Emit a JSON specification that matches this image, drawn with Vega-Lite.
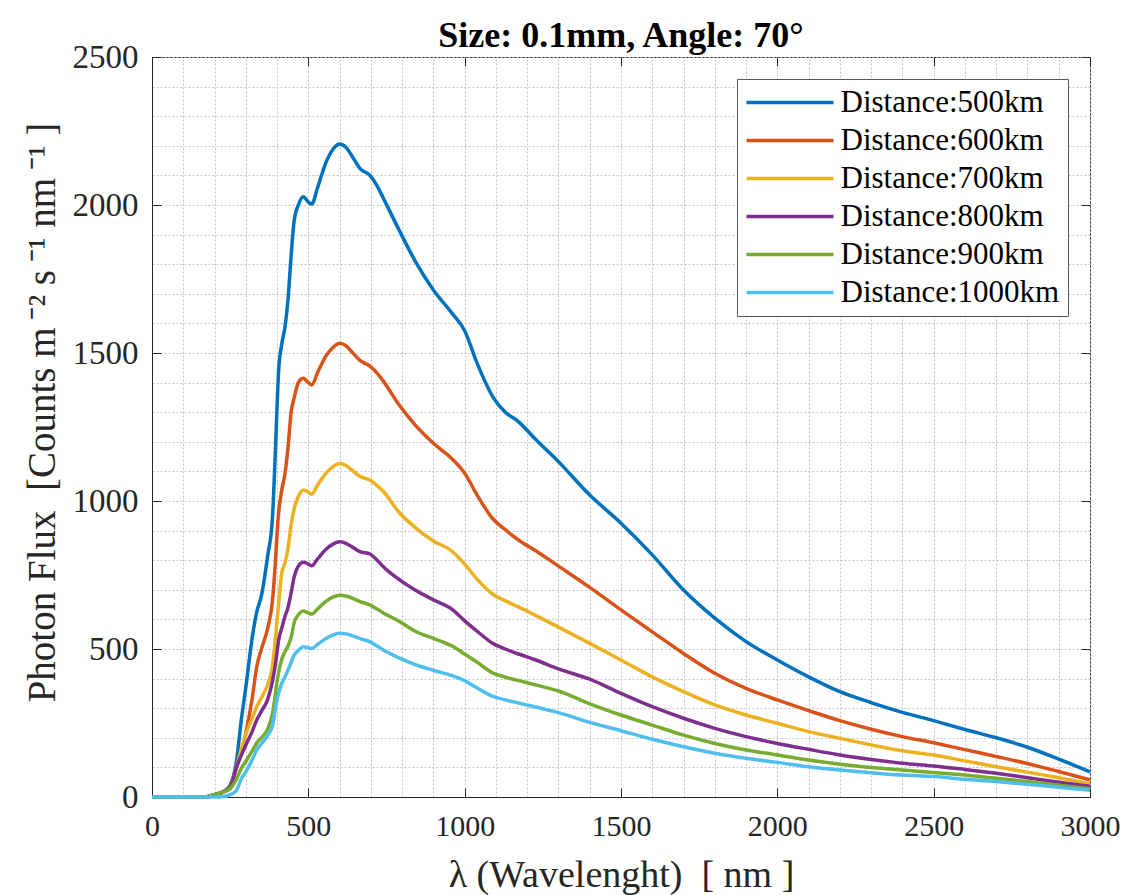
{
  "$schema": "https://vega.github.io/schema/vega-lite/v6.json",
  "width": 938,
  "height": 740,
  "autosize": "none",
  "padding": {"left": 152, "top": 57, "right": 40, "bottom": 98},
  "background": "white",
  "title": {"text": "Size: 0.1mm, Angle: 70°", "font": "Liberation Serif", "fontSize": 36, "fontWeight": "bold", "color": "#000000", "anchor": "middle", "offset": -14},
  "config": {"view": {"stroke": "#262626", "strokeWidth": 1}},
  "data": {"values": [
{"s":"Distance:500km","x":0,"y":0},{"s":"Distance:500km","x":100,"y":0},{"s":"Distance:500km","x":170,"y":0},{"s":"Distance:500km","x":200,"y":8},{"s":"Distance:500km","x":230,"y":20},{"s":"Distance:500km","x":250,"y":40},
{"s":"Distance:500km","x":270,"y":120},{"s":"Distance:500km","x":285,"y":255},{"s":"Distance:500km","x":300,"y":370},{"s":"Distance:500km","x":320,"y":535},{"s":"Distance:500km","x":335,"y":625},{"s":"Distance:500km","x":350,"y":680},
{"s":"Distance:500km","x":370,"y":815},{"s":"Distance:500km","x":385,"y":940},{"s":"Distance:500km","x":395,"y":1180},{"s":"Distance:500km","x":400,"y":1320},{"s":"Distance:500km","x":405,"y":1440},{"s":"Distance:500km","x":415,"y":1530},
{"s":"Distance:500km","x":425,"y":1585},{"s":"Distance:500km","x":435,"y":1680},{"s":"Distance:500km","x":445,"y":1830},{"s":"Distance:500km","x":455,"y":1950},{"s":"Distance:500km","x":468,"y":2000},{"s":"Distance:500km","x":484,"y":2028},
{"s":"Distance:500km","x":500,"y":2010},{"s":"Distance:500km","x":511,"y":2003},{"s":"Distance:500km","x":530,"y":2060},{"s":"Distance:500km","x":555,"y":2140},{"s":"Distance:500km","x":580,"y":2190},{"s":"Distance:500km","x":600,"y":2206},
{"s":"Distance:500km","x":620,"y":2195},{"s":"Distance:500km","x":640,"y":2165},{"s":"Distance:500km","x":665,"y":2124},{"s":"Distance:500km","x":697,"y":2100},{"s":"Distance:500km","x":720,"y":2065},{"s":"Distance:500km","x":740,"y":2023},
{"s":"Distance:500km","x":790,"y":1916},{"s":"Distance:500km","x":840,"y":1814},{"s":"Distance:500km","x":900,"y":1713},{"s":"Distance:500km","x":960,"y":1634},{"s":"Distance:500km","x":1000,"y":1575},{"s":"Distance:500km","x":1040,"y":1465},
{"s":"Distance:500km","x":1090,"y":1352},{"s":"Distance:500km","x":1130,"y":1300},{"s":"Distance:500km","x":1170,"y":1270},{"s":"Distance:500km","x":1230,"y":1205},{"s":"Distance:500km","x":1300,"y":1133},{"s":"Distance:500km","x":1400,"y":1020},
{"s":"Distance:500km","x":1500,"y":925},{"s":"Distance:500km","x":1600,"y":818},{"s":"Distance:500km","x":1700,"y":699},{"s":"Distance:500km","x":1800,"y":604},{"s":"Distance:500km","x":1900,"y":525},{"s":"Distance:500km","x":2000,"y":463},
{"s":"Distance:500km","x":2100,"y":406},{"s":"Distance:500km","x":2200,"y":356},{"s":"Distance:500km","x":2300,"y":319},{"s":"Distance:500km","x":2400,"y":286},{"s":"Distance:500km","x":2500,"y":258},{"s":"Distance:500km","x":2600,"y":228},
{"s":"Distance:500km","x":2700,"y":200},{"s":"Distance:500km","x":2800,"y":168},{"s":"Distance:500km","x":2900,"y":128},{"s":"Distance:500km","x":3000,"y":85},

{"s":"Distance:600km","x":0,"y":0},{"s":"Distance:600km","x":100,"y":0},{"s":"Distance:600km","x":170,"y":0},{"s":"Distance:600km","x":200,"y":8},{"s":"Distance:600km","x":230,"y":18},{"s":"Distance:600km","x":250,"y":35},
{"s":"Distance:600km","x":270,"y":100},{"s":"Distance:600km","x":285,"y":150},{"s":"Distance:600km","x":300,"y":215},{"s":"Distance:600km","x":320,"y":330},{"s":"Distance:600km","x":335,"y":440},{"s":"Distance:600km","x":350,"y":500},
{"s":"Distance:600km","x":370,"y":570},{"s":"Distance:600km","x":385,"y":660},{"s":"Distance:600km","x":395,"y":800},{"s":"Distance:600km","x":400,"y":890},{"s":"Distance:600km","x":405,"y":960},{"s":"Distance:600km","x":415,"y":1037},
{"s":"Distance:600km","x":425,"y":1090},{"s":"Distance:600km","x":435,"y":1180},{"s":"Distance:600km","x":445,"y":1300},{"s":"Distance:600km","x":455,"y":1350},{"s":"Distance:600km","x":468,"y":1400},{"s":"Distance:600km","x":484,"y":1415},
{"s":"Distance:600km","x":500,"y":1400},{"s":"Distance:600km","x":511,"y":1392},{"s":"Distance:600km","x":530,"y":1435},{"s":"Distance:600km","x":555,"y":1488},{"s":"Distance:600km","x":580,"y":1520},{"s":"Distance:600km","x":600,"y":1533},
{"s":"Distance:600km","x":620,"y":1525},{"s":"Distance:600km","x":640,"y":1503},{"s":"Distance:600km","x":665,"y":1475},{"s":"Distance:600km","x":697,"y":1456},{"s":"Distance:600km","x":720,"y":1432},{"s":"Distance:600km","x":740,"y":1405},
{"s":"Distance:600km","x":790,"y":1325},{"s":"Distance:600km","x":840,"y":1259},{"s":"Distance:600km","x":900,"y":1195},{"s":"Distance:600km","x":960,"y":1142},{"s":"Distance:600km","x":1000,"y":1094},{"s":"Distance:600km","x":1040,"y":1020},
{"s":"Distance:600km","x":1090,"y":940},{"s":"Distance:600km","x":1130,"y":903},{"s":"Distance:600km","x":1170,"y":870},{"s":"Distance:600km","x":1230,"y":830},{"s":"Distance:600km","x":1300,"y":780},{"s":"Distance:600km","x":1400,"y":708},
{"s":"Distance:600km","x":1500,"y":632},{"s":"Distance:600km","x":1600,"y":558},{"s":"Distance:600km","x":1700,"y":485},{"s":"Distance:600km","x":1800,"y":418},{"s":"Distance:600km","x":1900,"y":367},{"s":"Distance:600km","x":2000,"y":328},
{"s":"Distance:600km","x":2100,"y":292},{"s":"Distance:600km","x":2200,"y":258},{"s":"Distance:600km","x":2300,"y":229},{"s":"Distance:600km","x":2400,"y":204},{"s":"Distance:600km","x":2500,"y":183},{"s":"Distance:600km","x":2600,"y":160},
{"s":"Distance:600km","x":2700,"y":137},{"s":"Distance:600km","x":2800,"y":113},{"s":"Distance:600km","x":2900,"y":86},{"s":"Distance:600km","x":3000,"y":58},

{"s":"Distance:700km","x":0,"y":0},{"s":"Distance:700km","x":100,"y":0},{"s":"Distance:700km","x":170,"y":0},{"s":"Distance:700km","x":200,"y":8},{"s":"Distance:700km","x":230,"y":18},{"s":"Distance:700km","x":250,"y":32},
{"s":"Distance:700km","x":270,"y":100},{"s":"Distance:700km","x":285,"y":160},{"s":"Distance:700km","x":300,"y":210},{"s":"Distance:700km","x":320,"y":265},{"s":"Distance:700km","x":335,"y":305},{"s":"Distance:700km","x":350,"y":335},
{"s":"Distance:700km","x":370,"y":380},{"s":"Distance:700km","x":385,"y":440},{"s":"Distance:700km","x":395,"y":540},{"s":"Distance:700km","x":400,"y":600},{"s":"Distance:700km","x":405,"y":650},{"s":"Distance:700km","x":415,"y":756},
{"s":"Distance:700km","x":425,"y":790},{"s":"Distance:700km","x":435,"y":840},{"s":"Distance:700km","x":445,"y":920},{"s":"Distance:700km","x":455,"y":975},{"s":"Distance:700km","x":468,"y":1015},{"s":"Distance:700km","x":484,"y":1037},
{"s":"Distance:700km","x":500,"y":1030},{"s":"Distance:700km","x":511,"y":1023},{"s":"Distance:700km","x":530,"y":1055},{"s":"Distance:700km","x":555,"y":1092},{"s":"Distance:700km","x":580,"y":1117},{"s":"Distance:700km","x":600,"y":1127},
{"s":"Distance:700km","x":620,"y":1120},{"s":"Distance:700km","x":640,"y":1104},{"s":"Distance:700km","x":665,"y":1083},{"s":"Distance:700km","x":697,"y":1071},{"s":"Distance:700km","x":720,"y":1052},{"s":"Distance:700km","x":740,"y":1032},
{"s":"Distance:700km","x":790,"y":962},{"s":"Distance:700km","x":840,"y":912},{"s":"Distance:700km","x":900,"y":865},{"s":"Distance:700km","x":960,"y":830},{"s":"Distance:700km","x":1000,"y":787},{"s":"Distance:700km","x":1040,"y":735},
{"s":"Distance:700km","x":1090,"y":685},{"s":"Distance:700km","x":1130,"y":663},{"s":"Distance:700km","x":1170,"y":643},{"s":"Distance:700km","x":1230,"y":612},{"s":"Distance:700km","x":1300,"y":574},{"s":"Distance:700km","x":1400,"y":519},
{"s":"Distance:700km","x":1500,"y":463},{"s":"Distance:700km","x":1600,"y":406},{"s":"Distance:700km","x":1700,"y":356},{"s":"Distance:700km","x":1800,"y":311},{"s":"Distance:700km","x":1900,"y":277},{"s":"Distance:700km","x":2000,"y":249},
{"s":"Distance:700km","x":2100,"y":221},{"s":"Distance:700km","x":2200,"y":198},{"s":"Distance:700km","x":2300,"y":176},{"s":"Distance:700km","x":2400,"y":156},{"s":"Distance:700km","x":2500,"y":142},{"s":"Distance:700km","x":2600,"y":122},
{"s":"Distance:700km","x":2700,"y":102},{"s":"Distance:700km","x":2800,"y":84},{"s":"Distance:700km","x":2900,"y":65},{"s":"Distance:700km","x":3000,"y":45},

{"s":"Distance:800km","x":0,"y":0},{"s":"Distance:800km","x":100,"y":0},{"s":"Distance:800km","x":170,"y":0},{"s":"Distance:800km","x":200,"y":8},{"s":"Distance:800km","x":230,"y":18},{"s":"Distance:800km","x":250,"y":30},
{"s":"Distance:800km","x":270,"y":100},{"s":"Distance:800km","x":285,"y":140},{"s":"Distance:800km","x":300,"y":175},{"s":"Distance:800km","x":320,"y":220},{"s":"Distance:800km","x":335,"y":260},{"s":"Distance:800km","x":350,"y":290},
{"s":"Distance:800km","x":370,"y":330},{"s":"Distance:800km","x":385,"y":390},{"s":"Distance:800km","x":395,"y":450},{"s":"Distance:800km","x":400,"y":490},{"s":"Distance:800km","x":405,"y":530},{"s":"Distance:800km","x":415,"y":570},
{"s":"Distance:800km","x":425,"y":609},{"s":"Distance:800km","x":435,"y":640},{"s":"Distance:800km","x":445,"y":690},{"s":"Distance:800km","x":455,"y":745},{"s":"Distance:800km","x":468,"y":780},{"s":"Distance:800km","x":484,"y":793},
{"s":"Distance:800km","x":500,"y":787},{"s":"Distance:800km","x":511,"y":781},{"s":"Distance:800km","x":530,"y":805},{"s":"Distance:800km","x":555,"y":835},{"s":"Distance:800km","x":580,"y":855},{"s":"Distance:800km","x":600,"y":862},
{"s":"Distance:800km","x":620,"y":857},{"s":"Distance:800km","x":640,"y":845},{"s":"Distance:800km","x":665,"y":829},{"s":"Distance:800km","x":697,"y":821},{"s":"Distance:800km","x":720,"y":800},{"s":"Distance:800km","x":740,"y":778},
{"s":"Distance:800km","x":790,"y":735},{"s":"Distance:800km","x":840,"y":700},{"s":"Distance:800km","x":900,"y":666},{"s":"Distance:800km","x":960,"y":634},{"s":"Distance:800km","x":1000,"y":595},{"s":"Distance:800km","x":1040,"y":560},
{"s":"Distance:800km","x":1090,"y":519},{"s":"Distance:800km","x":1130,"y":500},{"s":"Distance:800km","x":1170,"y":484},{"s":"Distance:800km","x":1230,"y":462},{"s":"Distance:800km","x":1300,"y":433},{"s":"Distance:800km","x":1400,"y":398},
{"s":"Distance:800km","x":1500,"y":350},{"s":"Distance:800km","x":1600,"y":305},{"s":"Distance:800km","x":1700,"y":266},{"s":"Distance:800km","x":1800,"y":232},{"s":"Distance:800km","x":1900,"y":204},{"s":"Distance:800km","x":2000,"y":181},
{"s":"Distance:800km","x":2100,"y":161},{"s":"Distance:800km","x":2200,"y":142},{"s":"Distance:800km","x":2300,"y":127},{"s":"Distance:800km","x":2400,"y":114},{"s":"Distance:800km","x":2500,"y":105},{"s":"Distance:800km","x":2600,"y":93},
{"s":"Distance:800km","x":2700,"y":80},{"s":"Distance:800km","x":2800,"y":65},{"s":"Distance:800km","x":2900,"y":50},{"s":"Distance:800km","x":3000,"y":36},

{"s":"Distance:900km","x":0,"y":0},{"s":"Distance:900km","x":100,"y":0},{"s":"Distance:900km","x":170,"y":0},{"s":"Distance:900km","x":200,"y":8},{"s":"Distance:900km","x":230,"y":18},{"s":"Distance:900km","x":250,"y":28},
{"s":"Distance:900km","x":270,"y":60},{"s":"Distance:900km","x":285,"y":95},{"s":"Distance:900km","x":300,"y":120},{"s":"Distance:900km","x":320,"y":155},{"s":"Distance:900km","x":335,"y":182},{"s":"Distance:900km","x":350,"y":200},
{"s":"Distance:900km","x":370,"y":230},{"s":"Distance:900km","x":385,"y":280},{"s":"Distance:900km","x":395,"y":350},{"s":"Distance:900km","x":400,"y":390},{"s":"Distance:900km","x":405,"y":420},{"s":"Distance:900km","x":415,"y":465},
{"s":"Distance:900km","x":425,"y":490},{"s":"Distance:900km","x":435,"y":510},{"s":"Distance:900km","x":445,"y":540},{"s":"Distance:900km","x":455,"y":590},{"s":"Distance:900km","x":468,"y":615},{"s":"Distance:900km","x":484,"y":628},
{"s":"Distance:900km","x":500,"y":622},{"s":"Distance:900km","x":511,"y":618},{"s":"Distance:900km","x":530,"y":636},{"s":"Distance:900km","x":555,"y":660},{"s":"Distance:900km","x":580,"y":676},{"s":"Distance:900km","x":600,"y":682},
{"s":"Distance:900km","x":620,"y":679},{"s":"Distance:900km","x":640,"y":672},{"s":"Distance:900km","x":665,"y":660},{"s":"Distance:900km","x":697,"y":649},{"s":"Distance:900km","x":720,"y":635},{"s":"Distance:900km","x":740,"y":622},
{"s":"Distance:900km","x":790,"y":594},{"s":"Distance:900km","x":840,"y":561},{"s":"Distance:900km","x":900,"y":536},{"s":"Distance:900km","x":960,"y":510},{"s":"Distance:900km","x":1000,"y":483},{"s":"Distance:900km","x":1040,"y":455},
{"s":"Distance:900km","x":1090,"y":419},{"s":"Distance:900km","x":1130,"y":405},{"s":"Distance:900km","x":1170,"y":394},{"s":"Distance:900km","x":1230,"y":378},{"s":"Distance:900km","x":1300,"y":358},{"s":"Distance:900km","x":1400,"y":315},
{"s":"Distance:900km","x":1500,"y":277},{"s":"Distance:900km","x":1600,"y":243},{"s":"Distance:900km","x":1700,"y":209},{"s":"Distance:900km","x":1800,"y":181},{"s":"Distance:900km","x":1900,"y":159},{"s":"Distance:900km","x":2000,"y":142},
{"s":"Distance:900km","x":2100,"y":125},{"s":"Distance:900km","x":2200,"y":111},{"s":"Distance:900km","x":2300,"y":100},{"s":"Distance:900km","x":2400,"y":91},{"s":"Distance:900km","x":2500,"y":83},{"s":"Distance:900km","x":2600,"y":74},
{"s":"Distance:900km","x":2700,"y":63},{"s":"Distance:900km","x":2800,"y":52},{"s":"Distance:900km","x":2900,"y":40},{"s":"Distance:900km","x":3000,"y":28},

{"s":"Distance:1000km","x":0,"y":0},{"s":"Distance:1000km","x":100,"y":0},{"s":"Distance:1000km","x":170,"y":0},{"s":"Distance:1000km","x":200,"y":0},{"s":"Distance:1000km","x":230,"y":2},{"s":"Distance:1000km","x":250,"y":8},
{"s":"Distance:1000km","x":270,"y":22},{"s":"Distance:1000km","x":285,"y":60},{"s":"Distance:1000km","x":300,"y":85},{"s":"Distance:1000km","x":320,"y":125},{"s":"Distance:1000km","x":335,"y":159},{"s":"Distance:1000km","x":350,"y":180},
{"s":"Distance:1000km","x":370,"y":208},{"s":"Distance:1000km","x":385,"y":240},{"s":"Distance:1000km","x":395,"y":300},{"s":"Distance:1000km","x":400,"y":330},{"s":"Distance:1000km","x":405,"y":350},{"s":"Distance:1000km","x":415,"y":384},
{"s":"Distance:1000km","x":425,"y":405},{"s":"Distance:1000km","x":435,"y":429},{"s":"Distance:1000km","x":445,"y":455},{"s":"Distance:1000km","x":455,"y":480},{"s":"Distance:1000km","x":468,"y":495},{"s":"Distance:1000km","x":484,"y":508},
{"s":"Distance:1000km","x":500,"y":504},{"s":"Distance:1000km","x":511,"y":502},{"s":"Distance:1000km","x":530,"y":516},{"s":"Distance:1000km","x":555,"y":535},{"s":"Distance:1000km","x":580,"y":548},{"s":"Distance:1000km","x":600,"y":553},
{"s":"Distance:1000km","x":620,"y":551},{"s":"Distance:1000km","x":640,"y":545},{"s":"Distance:1000km","x":665,"y":535},{"s":"Distance:1000km","x":697,"y":525},{"s":"Distance:1000km","x":720,"y":510},{"s":"Distance:1000km","x":740,"y":497},
{"s":"Distance:1000km","x":790,"y":470},{"s":"Distance:1000km","x":840,"y":448},{"s":"Distance:1000km","x":900,"y":428},{"s":"Distance:1000km","x":960,"y":410},{"s":"Distance:1000km","x":1000,"y":393},{"s":"Distance:1000km","x":1040,"y":368},
{"s":"Distance:1000km","x":1090,"y":340},{"s":"Distance:1000km","x":1130,"y":328},{"s":"Distance:1000km","x":1170,"y":318},{"s":"Distance:1000km","x":1230,"y":303},{"s":"Distance:1000km","x":1300,"y":285},{"s":"Distance:1000km","x":1400,"y":252},
{"s":"Distance:1000km","x":1500,"y":224},{"s":"Distance:1000km","x":1600,"y":195},{"s":"Distance:1000km","x":1700,"y":170},{"s":"Distance:1000km","x":1800,"y":148},{"s":"Distance:1000km","x":1900,"y":131},{"s":"Distance:1000km","x":2000,"y":117},
{"s":"Distance:1000km","x":2100,"y":102},{"s":"Distance:1000km","x":2200,"y":91},{"s":"Distance:1000km","x":2300,"y":82},{"s":"Distance:1000km","x":2400,"y":74},{"s":"Distance:1000km","x":2500,"y":69},{"s":"Distance:1000km","x":2600,"y":60},
{"s":"Distance:1000km","x":2700,"y":52},{"s":"Distance:1000km","x":2800,"y":43},{"s":"Distance:1000km","x":2900,"y":33},{"s":"Distance:1000km","x":3000,"y":23}
  ]},
  "layer": [
    {
      "mark": {"type": "point", "opacity": 0},
      "encoding": {
        "x": {"field": "x", "type": "quantitative", "scale": {"domain": [0, 3000], "nice": false, "zero": false},
          "axis": {"orient": "top", "values": [0,100,200,300,400,500,600,700,800,900,1000,1100,1200,1300,1400,1500,1600,1700,1800,1900,2000,2100,2200,2300,2400,2500,2600,2700,2800,2900,3000],
            "labels": false, "title": null, "domain": false, "grid": true, "gridColor": "#c2c2c2", "gridDash": [2, 2], "gridWidth": 1,
            "tickSize": -9, "tickColor": "#262626", "tickOpacity": {"condition": {"test": "datum.value % 500 === 0", "value": 1}, "value": 0}}},
        "y": {"field": "y", "type": "quantitative", "scale": {"domain": [0, 2500], "nice": false, "zero": true},
          "axis": {"orient": "right", "values": [0,100,200,300,400,500,600,700,800,900,1000,1100,1200,1300,1400,1500,1600,1700,1800,1900,2000,2100,2200,2300,2400,2500],
            "labels": false, "title": null, "domain": false, "grid": true, "gridColor": "#c2c2c2", "gridDash": [2, 2], "gridWidth": 1,
            "tickSize": -9, "tickColor": "#262626", "tickOpacity": {"condition": {"test": "datum.value % 500 === 0", "value": 1}, "value": 0}}}
      }
    },
    {
      "mark": {"type": "line", "strokeWidth": 3.5, "interpolate": "monotone"},
      "encoding": {
        "x": {"field": "x", "type": "quantitative",
          "axis": {"orient": "bottom", "values": [0, 500, 1000, 1500, 2000, 2500, 3000], "format": "d", "grid": false,
            "tickSize": -9, "tickColor": "#262626", "domainColor": "#262626", "labelFont": "Liberation Serif", "labelFontSize": 30, "labelColor": "#262626",
            "labelPadding": 23, "labelFlush": false, "labelOverlap": false,
            "title": "λ (Wavelenght)\u00a0\u00a0[ nm ]", "titleFont": "Liberation Serif", "titleFontSize": 38, "titleFontWeight": "normal", "titleColor": "#262626", "titlePadding": 15}},
        "y": {"field": "y", "type": "quantitative",
          "axis": {"orient": "left", "values": [0, 500, 1000, 1500, 2000, 2500], "format": "d", "grid": false,
            "tickSize": -9, "tickColor": "#262626", "domainColor": "#262626", "labelFont": "Liberation Serif", "labelFontSize": 33, "labelColor": "#262626",
            "labelPadding": 23, "labelFlush": false, "labelOverlap": false,
            "title": "Photon Flux\u00a0\u00a0[Counts m\u2009⁻² s\u2009⁻¹ nm\u2009⁻¹\u00a0]", "titleFont": "Liberation Serif", "titleFontSize": 39, "titleFontWeight": "normal", "titleColor": "#262626", "titlePadding": 10, "titleY": 355}},
        "color": {"field": "s", "type": "nominal",
          "scale": {"domain": ["Distance:500km", "Distance:600km", "Distance:700km", "Distance:800km", "Distance:900km", "Distance:1000km"],
                    "range": ["#0072BD", "#D95319", "#EDB120", "#7E2F8E", "#77AC30", "#4DBEEE"]},
          "legend": {"title": null, "orient": "top-right", "offset": 22, "symbolType": "M-5,0H5", "symbolSize": 303, "symbolStrokeWidth": 3.5,
            "symbolOffset": 29.5, "labelOffset": 35, "labelFont": "Liberation Serif", "labelFontSize": 31, "labelColor": "#000000", "labelLimit": 400,
            "rowPadding": 6, "padding": 8, "strokeColor": "#595959", "fillColor": "white"}}
      }
    }
  ],
  "resolve": {"axis": {"x": "independent", "y": "independent"}}
}
